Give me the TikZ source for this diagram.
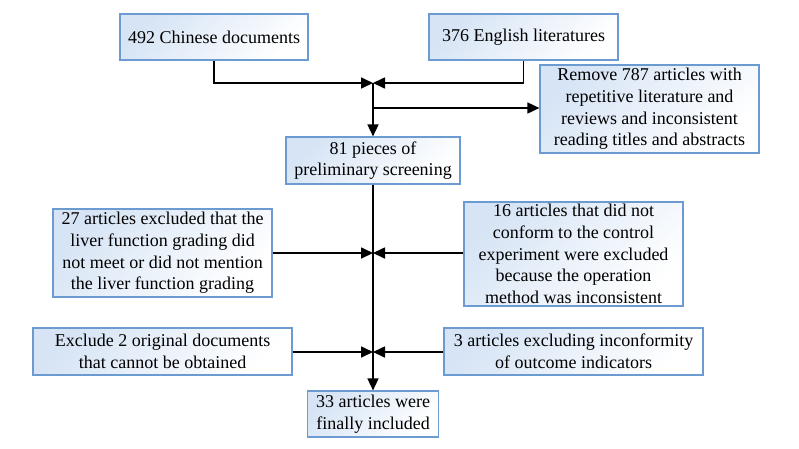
\documentclass[tikz,border=0pt]{standalone}
\usepackage{fontspec}
\setmainfont{Liberation Serif}
\newfontfamily\boxfont{Liberation Serif}
\usetikzlibrary{arrows.meta}
\definecolor{boxborder}{RGB}{108,155,210}
\definecolor{boxfill}{RGB}{214,228,245}
\tikzset{
  box/.style={draw=boxborder, line width=1.2pt, shading=axis, top color=boxfill, bottom color=white, shading angle=45,
    inner sep=0pt, align=center, font=\boxfont\fontsize{18}{21.7}\selectfont, text=black},
  conn/.style={line width=1.7pt, draw=black},
  arr/.style={conn, -{Triangle[length=12pt,width=11pt]}},
}
\begin{document}
\begin{tikzpicture}[x=1pt,y=-1pt]
\useasboundingbox (0,0) rectangle (799,448);
\node[box, minimum width=188pt, minimum height=46pt] (chin) at (214,37) {492 Chinese documents};
\node[box, minimum width=189pt, minimum height=46pt] (eng) at (523.5,37) {376 English literatures};
\node[box, minimum width=219pt, minimum height=88pt] (remove) at (649.5,109) {Remove 787 articles with\\repetitive literature and\\reviews and inconsistent\\reading titles and abstracts};
\node[box, minimum width=174pt, minimum height=47pt] (p81) at (373,160.5) {81 pieces of\\preliminary screening};
\node[box, minimum width=219pt, minimum height=88pt] (a27) at (162.5,253) {27 articles excluded that the\\liver function grading did\\not meet or did not mention\\the liver function grading};
\node[box, minimum width=219pt, minimum height=104pt] (a16) at (573.5,254) {16 articles that did not\\conform to the control\\experiment were excluded\\because the operation\\method was inconsistent};
\node[box, minimum width=259pt, minimum height=47pt] (ex2) at (162.5,351.5) {Exclude 2 original documents\\that cannot be obtained};
\node[box, minimum width=259pt, minimum height=47pt] (a3) at (573.5,351.5) {3 articles excluding inconformity\\of outcome indicators};
\node[box, minimum width=131pt, minimum height=46pt] (a33) at (373,414) {33 articles were\\finally included};
\coordinate (j1) at (373,83);
\coordinate (j2) at (373,108);
\coordinate (j3) at (373,253);
\coordinate (j4) at (373,352);
\draw[arr] (chin.south) |- (j1);
\draw[arr] (eng.south) |- (j1);
\draw[arr] (j1) -- (p81.north);
\draw[arr] (j2) -- (remove.west |- j2);
\draw[arr] (p81.south) -- (a33.north);
\draw[arr] (a27.east |- j3) -- (j3);
\draw[arr] (a16.west |- j3) -- (j3);
\draw[arr] (ex2.east |- j4) -- (j4);
\draw[arr] (a3.west |- j4) -- (j4);
\end{tikzpicture}
\end{document}
